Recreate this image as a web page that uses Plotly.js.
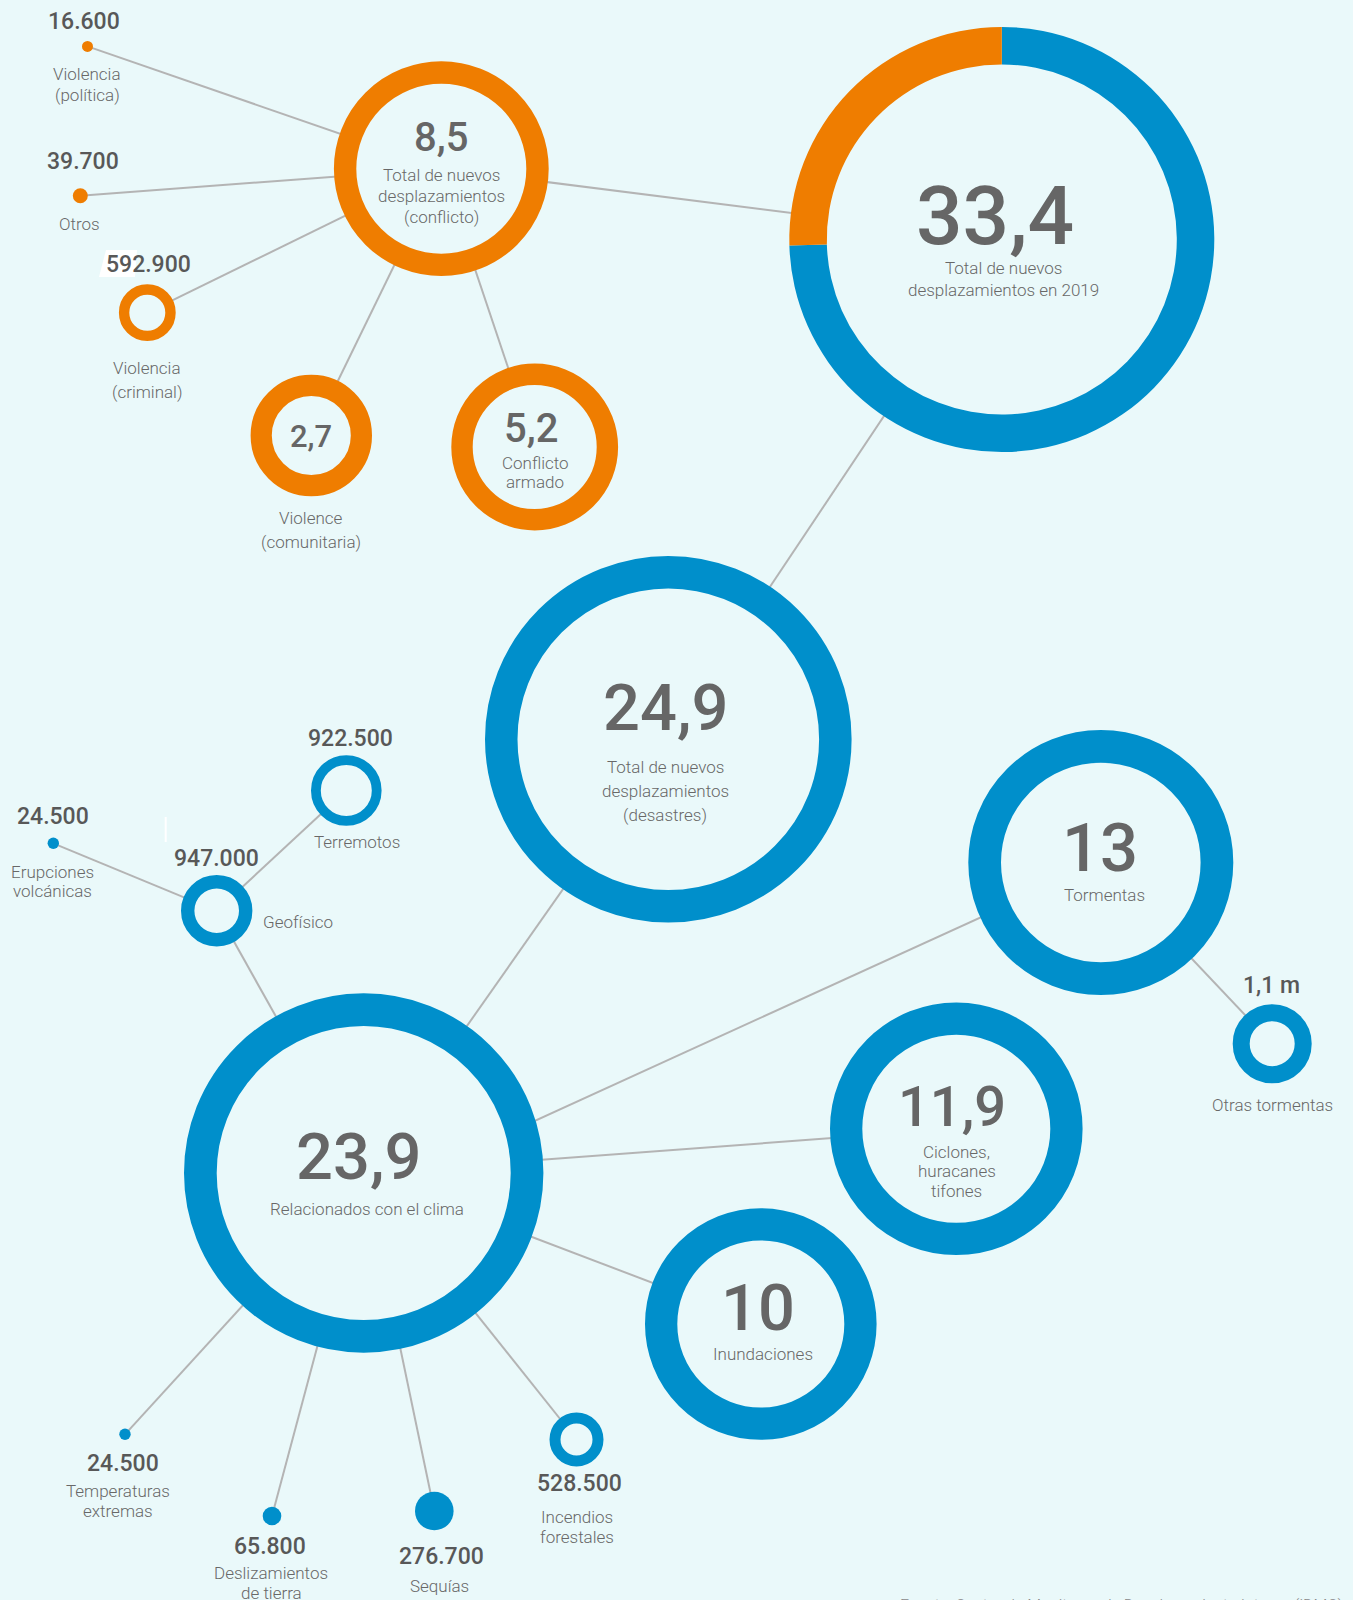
<!DOCTYPE html>
<html><head><meta charset="utf-8">
<script src="https://cdn.plot.ly/plotly-3.0.1.min.js"></script>
<style>html,body{margin:0;padding:0;background:#eaf9fa;}#chart{width:1353px;height:1600px;}</style>
</head><body><div id="chart"></div>
<script>
// ---------------- DATA ----------------
const nodeNames = ['Total 2019','Conflicto (total)','Violencia (política)','Otros','Violencia (criminal)','Violence (comunitaria)','Conflicto armado','Desastres (total)','Relacionados con el clima','Geofísico','Terremotos','Erupciones volcánicas','Tormentas','Otras tormentas','Ciclones, huracanes tifones','Inundaciones','Temperaturas extremas','Deslizamientos de tierra','Sequías','Incendios forestales'];
const nodeValueLabels = ['33,4','8,5','16.600','39.700','592.900','2,7','5,2','24,9','23,9','947.000','922.500','24.500','13','1,1 m','11,9','10','24.500','65.800','276.700','528.500'];
const nodeDescLines = [
  ['Total de nuevos','desplazamientos en 2019'],
  ['Total de nuevos','desplazamientos','(conflicto)'],
  ['Violencia','(política)'],
  ['Otros'],
  ['Violencia','(criminal)'],
  ['Violence','(comunitaria)'],
  ['Conflicto','armado'],
  ['Total de nuevos','desplazamientos','(desastres)'],
  ['Relacionados con el clima'],
  ['Geofísico'],
  ['Terremotos'],
  ['Erupciones','volcánicas'],
  ['Tormentas'],
  ['Otras tormentas'],
  ['Ciclones,','huracanes','tifones'],
  ['Inundaciones'],
  ['Temperaturas','extremas'],
  ['Deslizamientos','de tierra'],
  ['Sequías'],
  ['Incendios','forestales']
];
const nodeGroup = ['total','conflicto','conflicto','conflicto','conflicto','conflicto','conflicto','desastres','desastres','desastres','desastres','desastres','desastres','desastres','desastres','desastres','desastres','desastres','desastres','desastres'];
const parentIndex = [-1,0,1,1,1,1,1,0,7,8,9,9,8,12,8,8,8,8,8,8];
const totalSplitLabels = ['Desastres','Conflicto'];
const totalSplitValues = [24.9, 8.5];
const footerText = 'Fuente: Centro de Monitoreo de Desplazamiento Interno (iDMC)';

// ---------------- LAYOUT (positions / sizes) ----------------
const nodeX  = [1001.8,441.3,87.5,80.3,147.3,311.3,534.7,668.3,363.7,216.7,346.3,53.3,1100.8,1272.2,956.3,760.8,125,272,434.3,576.5];
const nodeY  = [239.5,168.7,46.4,195.7,312.7,435.5,447,739.2,1173,910.8,790.5,843.3,862.5,1043.7,1128.8,1324,1434.3,1516,1511,1439.5];
const outerR = [212.5,107.4,5.5,7.5,28.4,60.7,83.4,183.3,179.7,35.7,35.3,5.7,132.5,39.5,126.3,115.8,5.7,9.3,19.3,27];
const innerR = [175,85,0,0,18,39.5,62,150.8,147,22.3,25.5,0,99.8,22.5,94,83.5,0,0,0,16];
const linkShift = {12:[0,26]}; // source offset for the Tormentas link

const valX = [995,441,84,82.8,148,311,530.6,665,358.3,216,350,53.3,1100,1271.7,951.7,758.3,123.3,270,441,579.6];
const valY = [215.5,137.4,21.4,161.7,264,436,428.5,708.3,1156.7,858.3,738.3,816.7,848.3,985,1106.7,1308.3,1463.3,1546.7,1556.7,1483.7];
const valSize = [82,40,23,23,23,31,40,65,65,23,23,23,67,23,56,65,23,23,23,23];
const descX = [1003,441,87,79.3,147,311,535,665,367.3,261,357.3,52,1104,1272.7,956.7,763.3,118,271,439,576.5];
const descY = [268.4,175,74.3,224.2,367.7,517.7,463.3,766.7,1209.3,921.7,842.3,871.7,895,1105,1151.7,1354,1491,1573.3,1586,1517.4];
const descGap = [21.4,21,20.3,0,24,24,18.3,24,0,0,0,19.3,0,0,19.7,0,20,20,0,19.4];
const descAnchor = nodeNames.map((n,i)=> i===9 ? 'left' : 'center');

// ---------------- STYLE ----------------
const BG = '#eaf9fa';
const ORANGE = '#ef7d00';
const BLUE = '#008fcb';
const LINE = '#b4b4b4';
const FONT = 'Roboto, "Open Sans", sans-serif';
const colorOf = g => g === 'conflicto' ? ORANGE : BLUE;

// ---------------- TRACES ----------------
const lx = [], ly = [];
parentIndex.forEach((p, i) => {
  if (p < 0) return;
  const s = linkShift[i] || [0,0];
  lx.push(nodeX[p] + s[0], nodeX[i], null);
  ly.push(nodeY[p] + s[1], nodeY[i], null);
});
const linkTrace = {type:'scatter', mode:'lines', x:lx, y:ly, line:{color:LINE, width:2}, hoverinfo:'skip', showlegend:false};

// background disc for the total (under the donut hole)
const holeDisc = {type:'scatter', mode:'markers', x:[nodeX[0]], y:[nodeY[0]],
  marker:{size:2*innerR[0]+2, color:BG, opacity:1, line:{width:0}}, hoverinfo:'skip', showlegend:false};

const idx = nodeNames.map((n,i)=>i).filter(i => i !== 0);
const ringTrace = {
  type:'scatter', mode:'markers',
  x: idx.map(i=>nodeX[i]), y: idx.map(i=>nodeY[i]),
  text: idx.map(i=>nodeNames[i]),
  marker:{
    opacity:1,
    size: idx.map(i => innerR[i] > 0 ? outerR[i] + innerR[i] : 2*outerR[i]),
    color: idx.map(i => innerR[i] > 0 ? BG : colorOf(nodeGroup[i])),
    line:{ color: idx.map(i => colorOf(nodeGroup[i])),
           width: idx.map(i => innerR[i] > 0 ? outerR[i] - innerR[i] : 0) }
  },
  hoverinfo:'text', showlegend:false
};

const W = 1353, H = 1600;
const pieTrace = {
  type:'pie', labels: totalSplitLabels, values: totalSplitValues,
  marker:{colors:[BLUE, ORANGE], line:{width:0}},
  hole: innerR[0]/outerR[0], sort:false, direction:'clockwise', rotation:0,
  textinfo:'none', hoverinfo:'label+value', showlegend:false,
  domain:{ x:[(nodeX[0]-outerR[0])/W, (nodeX[0]+outerR[0])/W],
           y:[1-(nodeY[0]+outerR[0])/H, 1-(nodeY[0]-outerR[0])/H] }
};

// ---------------- ANNOTATIONS ----------------
const ann = [];
nodeNames.forEach((n, i) => {
  const big = valSize[i] >= 30;
  ann.push({x:valX[i], y:valY[i], xref:'x', yref:'y', text:nodeValueLabels[i], showarrow:false,
    xanchor:'center', yanchor:'middle',
    font:{family:FONT, size:valSize[i], color: big ? '#666666' : '#585858', weight: 500}});
  nodeDescLines[i].forEach((t, k) => {
    ann.push({x:descX[i], y:descY[i] + k*descGap[i], xref:'x', yref:'y', text:t, showarrow:false,
      xanchor:descAnchor[i], yanchor:'middle',
      font:{family:FONT, size:17, color:'#686868', weight:300}});
  });
});
ann.push({x:898, y:1594, xref:'x', yref:'y', text:footerText, showarrow:false, xanchor:'left', yanchor:'top',
  font:{family:FONT, size:16, color:'#8a8a8a', weight:300}});

const layout = {
  width:W, height:H, margin:{l:0,r:0,t:0,b:0},
  paper_bgcolor:BG, plot_bgcolor:BG,
  xaxis:{range:[0,W], visible:false, fixedrange:true},
  yaxis:{range:[H,0], visible:false, fixedrange:true},
  annotations: ann,
  shapes:[
    {type:'path', path:'M 106 250 L 137 250 L 135 277 L 99 277 Z', fillcolor:'#ffffff', line:{width:0}, layer:'above'},
    {type:'line', x0:165.7, x1:165.7, y0:817, y1:842, line:{color:'#ffffff', width:2}, layer:'above'}
  ],
  hovermode:'closest'
};

Plotly.newPlot('chart', [linkTrace, holeDisc, ringTrace, pieTrace], layout, {displayModeBar:false});
</script></body></html>
